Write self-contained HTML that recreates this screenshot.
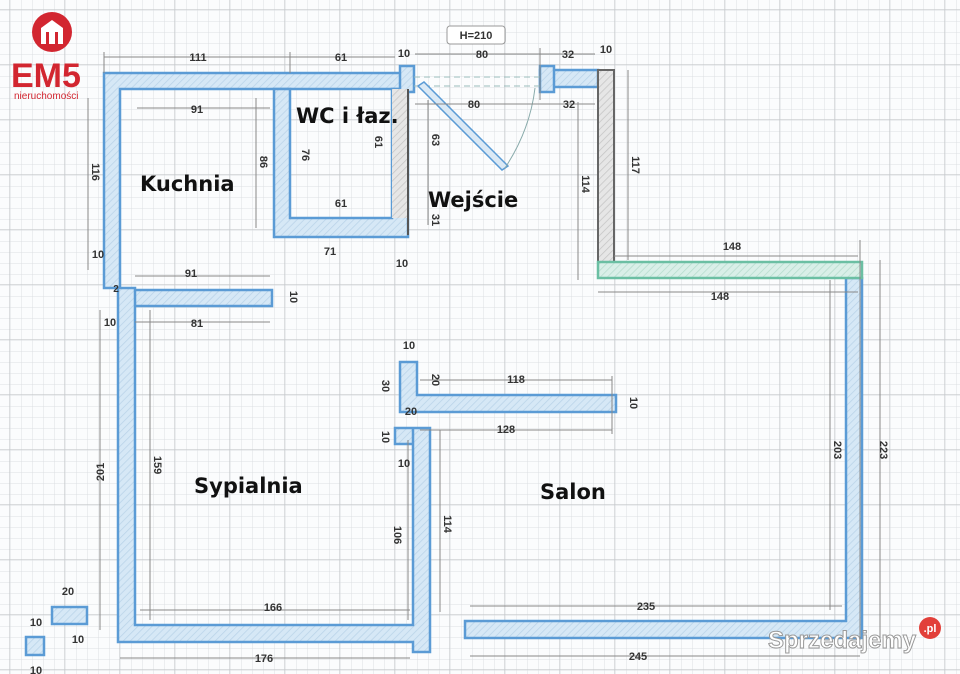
<!DOCTYPE html>
<html><head><meta charset="utf-8">
<style>
html,body{margin:0;padding:0;background:#fff;}
svg{display:block;font-family:"Liberation Sans",sans-serif;}
.d{font-size:11px;fill:#333;font-weight:bold;}
.r{font-size:21px;font-weight:bold;fill:#111;font-family:"DejaVu Sans","Liberation Sans",sans-serif;}
.dl{stroke:#888;stroke-width:1;fill:none;}
</style></head><body>
<svg width="960" height="674" viewBox="0 0 960 674" xmlns="http://www.w3.org/2000/svg">
<defs>
<pattern id="g" width="11" height="11" patternUnits="userSpaceOnUse">
<path d="M11 0V11H0" fill="none" stroke="#dcdfe2" stroke-width="1"/>
</pattern>
<pattern id="G" width="55" height="55" patternUnits="userSpaceOnUse" x="10" y="10">
<path d="M55 0V55H0" fill="none" stroke="#c6c9cc" stroke-width="1.2"/>
</pattern>
<pattern id="h" width="5" height="5" patternUnits="userSpaceOnUse" patternTransform="rotate(45)">
<rect width="5" height="5" fill="#d6e8f6"/><line x1="0" y1="0" x2="0" y2="5" stroke="#b9d3e8" stroke-width="1.5"/>
</pattern>
<pattern id="hg" width="5" height="5" patternUnits="userSpaceOnUse" patternTransform="rotate(45)">
<rect width="5" height="5" fill="#e6e6e6"/><line x1="0" y1="0" x2="0" y2="5" stroke="#c4c4c4" stroke-width="1.5"/>
</pattern>
<pattern id="hn" width="5" height="5" patternUnits="userSpaceOnUse" patternTransform="rotate(45)">
<rect width="5" height="5" fill="#d9efe8"/><line x1="0" y1="0" x2="0" y2="5" stroke="#b5dccd" stroke-width="1.5"/>
</pattern>
</defs>
<rect width="960" height="674" fill="#fbfcfd"/>
<rect width="960" height="674" fill="url(#g)"/>
<rect width="960" height="674" fill="url(#G)"/>

<g stroke="#5b9bd5" stroke-width="2.5" fill="url(#h)">
<path d="M104 73 H405 V89 H120 V288 H104 Z"/>
<path d="M274 89 H290 V218 H392 V89 H408 V237 H274 Z"/>
<rect x="120" y="290" width="152" height="16"/>
<path d="M118 288 H135 V625 H413 V428 H395 V444 H413 V428 H430 V652 H413 V642 H118 Z"/>
<path d="M400 362 H417 V395 H616 V412 H400 Z"/>
<path d="M465 621 H846 V278 H862 V638 H465 Z"/>
<rect x="540" y="70" width="58" height="17"/>
<rect x="400" y="66" width="14" height="26"/>
<rect x="540" y="66" width="14" height="26"/>
<rect x="52" y="607" width="35" height="17"/>
<rect x="26" y="637" width="18" height="18"/>
</g>
<rect x="392" y="89" width="16" height="129" fill="url(#hg)" stroke="none"/>
<line x1="408" y1="89" x2="408" y2="235" stroke="#555" stroke-width="2"/>
<path d="M598 70 H614 V262 H598 Z" fill="url(#hg)" stroke="#666" stroke-width="2"/>
<path d="M598 262 H862 V278 H598 Z" fill="url(#hn)" stroke="#6bbfa3" stroke-width="2.5"/>
<line x1="414" y1="77" x2="540" y2="77" stroke="#9bb" stroke-dasharray="6,4"/>
<line x1="414" y1="86" x2="540" y2="86" stroke="#9bb" stroke-dasharray="6,4"/>
<path d="M418 86 L502 170 L508 166 L424 82 Z" fill="#dbe9f5" stroke="#5b9bd5" stroke-width="1.5"/>
<path d="M505 168 Q530 130 535 88" fill="none" stroke="#8aa" stroke-width="1"/>
<rect x="447" y="26" width="58" height="18" rx="3" fill="#fff" stroke="#999"/>
<text x="476" y="39" class="d" text-anchor="middle" font-weight="normal">H=210</text>

<g class="dl">
<path d="M104 57 H395 M290 52 V73 M104 52 V73"/>
<path d="M415 54 H595 M540 48 V100"/>
<path d="M415 104 H595"/>
<path d="M137 108 H270 M88 98 V270 M256 98 V228"/>
<path d="M135 276 H270 M135 322 H270"/>
<path d="M428 100 V225 M578 102 V280 M628 70 V260"/>
<path d="M614 256 H858 M598 292 H858 M860 240 V640 M880 260 V640"/>
<path d="M420 380 H612 M420 430 H612 M612 376 V434"/>
<path d="M100 310 V630 M150 310 V620 M140 610 H410"/>
<path d="M120 658 H410 M470 606 H842 M470 656 H860"/>
<path d="M408 440 V620 M440 430 V612 M830 280 V610"/>
</g>

<g class="d" text-anchor="middle">
<text x="198" y="61">111</text><text x="341" y="61">61</text>
<text x="404" y="57">10</text><text x="482" y="58">80</text><text x="568" y="58">32</text><text x="606" y="53">10</text>
<text x="474" y="108">80</text><text x="569" y="108">32</text>
<text x="197" y="113">91</text><text x="341" y="207">61</text>
<text x="330" y="255">71</text><text x="402" y="267">10</text>
<text x="98" y="258">10</text>
<text x="191" y="277">91</text><text x="197" y="327">81</text><text x="110" y="326">10</text>
<text x="732" y="250">148</text><text x="720" y="300">148</text>
<text x="516" y="383">118</text><text x="506" y="433">128</text>
<text x="409" y="349">10</text><text x="411" y="415">20</text><text x="404" y="467">10</text>
<text x="273" y="611">166</text><text x="264" y="662">176</text>
<text x="646" y="610">235</text><text x="638" y="660">245</text>
<text x="68" y="595">20</text><text x="36" y="626">10</text><text x="78" y="643">10</text><text x="36" y="674">10</text>
<text x="116" y="292" font-size="10">2</text>
</g>
<g class="d" text-anchor="middle">
<text transform="translate(92,172) rotate(90)">116</text>
<text transform="translate(260,162) rotate(90)">86</text>
<text transform="translate(302,155) rotate(90)">76</text>
<text transform="translate(375,142) rotate(90)">61</text>
<text transform="translate(432,140) rotate(90)">63</text>
<text transform="translate(432,220) rotate(90)">31</text>
<text transform="translate(582,184) rotate(90)">114</text>
<text transform="translate(632,165) rotate(90)">117</text>
<text transform="translate(104,472) rotate(-90)">201</text>
<text transform="translate(154,465) rotate(90)">159</text>
<text transform="translate(394,535) rotate(90)">106</text>
<text transform="translate(444,524) rotate(90)">114</text>
<text transform="translate(834,450) rotate(90)">203</text>
<text transform="translate(880,450) rotate(90)">223</text>
<text transform="translate(290,297) rotate(90)">10</text>
<text transform="translate(630,403) rotate(90)">10</text>
<text transform="translate(382,386) rotate(90)">30</text>
<text transform="translate(432,380) rotate(90)">20</text>
<text transform="translate(382,437) rotate(90)">10</text>
</g>

<text x="140" y="191" class="r">Kuchnia</text>
<text x="296" y="123" class="r" font-size="19">WC i łaz.</text>
<text x="428" y="207" class="r">Wejście</text>
<text x="194" y="493" class="r">Sypialnia</text>
<text x="540" y="499" class="r">Salon</text>

<circle cx="52" cy="32" r="20" fill="#d22630"/>
<path d="M41 44 V28 L52 20 L63 28 V44 H58 V32 H55 V44 H49 V32 H46 V44 Z" fill="#fff"/>
<text x="11" y="87" font-size="34" font-weight="bold" fill="#d22630" font-family="Liberation Sans,sans-serif">EM5</text>
<text x="14" y="99" font-size="10" fill="#d22630">nieruchomości</text>

<text x="768" y="648" font-size="24" font-weight="bold" fill="#fff" stroke="#999" stroke-width="1">Sprzedajemy</text>
<circle cx="930" cy="628" r="11" fill="#e2403a"/>
<text x="930" y="632" font-size="11" font-weight="bold" fill="#fff" text-anchor="middle">.pl</text>
</svg>
</body></html>
